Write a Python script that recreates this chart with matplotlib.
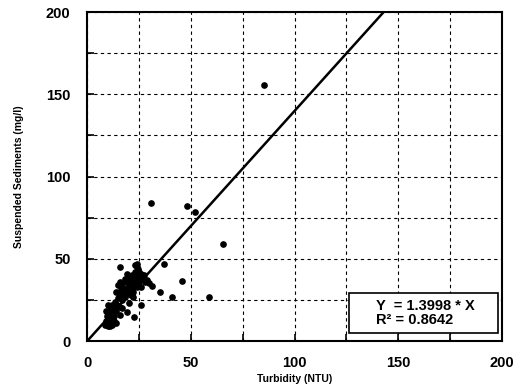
import numpy as np
import matplotlib
matplotlib.use("Agg")
import matplotlib.pyplot as plt
from matplotlib.patches import Rectangle

# turbidity (NTU) and suspended sediments (mg/l)
turbidity = [8.5, 9, 9.5, 9, 10, 10, 10.5, 11, 11, 11.5, 12, 12, 12, 12.5, 13, 13, 13.5,
             14, 14, 14.5, 15, 15, 15.5, 16, 16, 16.5, 17, 17, 17.5, 18, 18, 18.5, 19, 19,
             20, 20, 20.5, 21, 21, 21.5, 22, 22, 22.5, 23, 23, 23.5, 24, 24, 24.5, 25, 25,
             25.5, 26, 26, 27, 27.5, 28, 29, 30, 24, 22, 20, 17, 13, 11, 10, 14, 16, 19, 23, 24,
             85, 30.8, 48, 52, 65.4, 36.8, 45.6, 35.2, 40.8, 58.5, 15.6, 26, 22.8, 19.1, 15.9, 31]
sediments = [10, 12, 15, 18, 9, 13, 16, 11, 19, 14, 10, 17, 22, 12, 15, 20, 24,
             11, 18, 22, 26, 34, 30, 21, 28, 33, 25, 35, 30, 27, 38, 32, 29, 36,
             31, 39, 34, 28, 37, 40, 33, 30, 36, 42, 38, 34, 45, 40, 44, 36, 42,
             39, 33, 41, 38, 40, 36, 37, 35, 33, 27, 23, 20, 12, 9, 22, 30, 36, 41, 46, 47,
             156, 83.7, 82, 78.4, 58.8, 46.6, 36.7, 29.6, 26.6, 26.9, 45.2, 21.7, 14.8, 17.4, 15.8, 33.4]

slope = 1.3998
r2 = 0.8642

fig = plt.figure(figsize=(5.16, 3.92), dpi=100)
ax = fig.add_axes([0.169, 0.130, 0.804, 0.839])

bold = {"family": "Liberation Sans", "weight": "bold"}

ax.plot(turbidity, sediments, "o", color="black", markersize=3.8, zorder=3)
xfit = np.array([0, 200])
ax.plot(xfit, slope * xfit, color="black", lw=1.8, zorder=4)

ax.set_xlim(0, 200)
ax.set_ylim(0, 200)
ax.set_xticks(np.arange(0, 201, 50))
ax.set_yticks(np.arange(0, 201, 50))
ax.set_xticks(np.arange(25, 200, 50), minor=True)
ax.set_yticks(np.arange(25, 200, 50), minor=True)
ax.grid(True, which="both", linestyle=(0, (3, 3)), color="black", lw=0.8)
ax.tick_params(which="both", direction="in", length=5, width=1.2, color="black")
ax.tick_params(axis="x", pad=11)
ax.tick_params(axis="y", pad=12)
for lab in ax.get_xticklabels() + ax.get_yticklabels():
    lab.set_fontproperties(bold)
    lab.set_fontsize(10.5)
for s in ax.spines.values():
    s.set_linewidth(1.5)

ax.set_xlabel("Turbidity (NTU)", fontdict=bold, fontsize=7.5, labelpad=3)
ax.set_ylabel("Suspended Sediments (mg/l)", fontdict=bold, fontsize=7.5, labelpad=16)

# equation box
ax.add_patch(Rectangle((126.3, 4.9), 71.7, 24.3, facecolor="white", edgecolor="black",
                       lw=1.2, zorder=5))
ax.text(139, 21.3, "Y  = %.4f * X" % slope, fontdict=bold, fontsize=10.5, va="center", zorder=6)
ax.text(139, 12.8, "R² = %.4f" % r2, fontdict=bold, fontsize=10.5, va="center", zorder=6)

fig.savefig("out.png", dpi=100)
